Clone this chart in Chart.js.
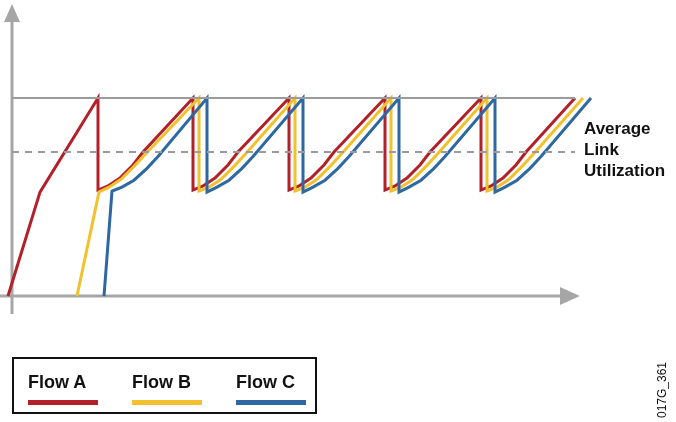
<!DOCTYPE html>
<html>
<head>
<meta charset="utf-8">
<script src="https://cdn.jsdelivr.net/npm/chart.js@4"></script>
<style>
  body { margin: 0; background: #fff; font-family: Arial, "Liberation Sans", sans-serif; }
  #wrap { position: relative; width: 676px; height: 422px; }
  #c { position: absolute; left: 0; top: 0; }
  .note { position: absolute; left: 584px; top: 118px; font-weight: bold; font-size: 17px; line-height: 21px; color: #111; }
  .legend { position: absolute; left: 12px; top: 357px; width: 305px; height: 57px; border: 2px solid #111; box-sizing: border-box; }
  .item { position: absolute; top: 13px; font-weight: bold; font-size: 18px; color: #111; }
  .item span { display: block; height: 5px; width: 70px; margin-top: 7px; }
  .code { position: absolute; left: 622px; top: 383px; transform: rotate(-90deg); font-size: 12px; color: #111; width: 80px; text-align: center; }
</style>
</head>
<body>
<div id="wrap">
  <canvas id="c" width="676" height="422"></canvas>
  <div class="note">Average<br>Link<br>Utilization</div>
  <div class="legend">
    <div class="item" style="left:14px">Flow A<span style="background:#b3202a"></span></div>
    <div class="item" style="left:118px">Flow B<span style="background:#f2c12e"></span></div>
    <div class="item" style="left:222px">Flow C<span style="background:#2d68a3"></span></div>
  </div>
  <div class="code">017G_361</div>
</div>
<script>
/* ---------------- DATA ---------------- */
// x = time (arbitrary units), y = link utilization %
const flowA = [[8,0],[40,52.5],[98,100],[98,53.5],[108,55.6],[120,59.6],[133,66.2],[143,72.7],[193,100],
  [193,53.5],[203,55.6],[215,59.6],[228,66.2],[238,72.7],[289,100],
  [289,53.5],[299,55.6],[311,59.6],[324,66.2],[334,72.7],[385,100],
  [385,53.5],[395,55.6],[407,59.6],[420,66.2],[430,72.7],[481,100],
  [481,53.5],[491,55.6],[503,59.6],[516,66.2],[526,72.7],[575,100]];
const flowB = [[77,0],[99,52.5],[109,55],[121,59],[134,65.5],[145,71.5],[199,100],
  [199,53],[209,55],[221,59],[234,65.5],[245,71.5],[295,100],
  [295,53],[305,55],[317,59],[330,65.5],[341,71.5],[391,100],
  [391,53],[401,55],[413,59],[426,65.5],[437,71.5],[487,100],
  [487,53],[497,55],[509,59],[522,65.5],[533,71.5],[583,100]];
const flowC = [[104,0],[112,53],[122,55],[134,58.5],[147,64.5],[158,70.5],[207,100],
  [207,52.5],[217,55],[229,58.5],[242,64.5],[253,70.5],[303,100],
  [303,52.5],[313,55],[325,58.5],[338,64.5],[349,70.5],[399,100],
  [399,52.5],[409,55],[421,58.5],[434,64.5],[445,70.5],[495,100],
  [495,52.5],[505,55],[517,58.5],[530,64.5],[541,70.5],[591,100]];
const capacity = 100;
const average = 72.7;
const lineEnd = 575;

const pts = a => a.map(([x, y]) => ({ x, y }));

/* ---------------- AXES PLUGIN ---------------- */
const axesArrows = {
  id: "axesArrows",
  beforeDatasetsDraw(chart) {
    const { ctx, scales: { x, y } } = chart;
    const x0 = x.getPixelForValue(12), y0 = y.getPixelForValue(0);
    ctx.save();
    ctx.strokeStyle = ctx.fillStyle = "#a6a6a6";
    ctx.lineWidth = 3;
    ctx.beginPath();
    ctx.moveTo(x0, y0 + 18); ctx.lineTo(x0, 20);
    ctx.moveTo(0, y0); ctx.lineTo(562, y0);
    ctx.stroke();
    ctx.beginPath();
    ctx.moveTo(x0 - 8, 22); ctx.lineTo(x0 + 8, 22); ctx.lineTo(x0, 4); ctx.fill();
    ctx.beginPath();
    ctx.moveTo(560, y0 - 9); ctx.lineTo(560, y0 + 9); ctx.lineTo(580, y0); ctx.fill();
    ctx.restore();
  }
};

/* ---------------- CHART ---------------- */
const line = (data, color, extra) => Object.assign({
  data, borderColor: color, borderWidth: 3, pointRadius: 0, tension: 0, fill: false
}, extra);

new Chart(document.getElementById("c"), {
  type: "line",
  data: {
    datasets: [
      line(pts([[12, capacity], [lineEnd, capacity]]), "#9b9b9b", { borderWidth: 2 }),
      line(pts([[12, average], [lineEnd, average]]), "#9b9b9b", { borderWidth: 2, borderDash: [7, 6] }),
      line(pts(flowC), "#2d68a3"),
      line(pts(flowB), "#f2c12e"),
      line(pts(flowA), "#b3202a")
    ]
  },
  options: {
    responsive: false,
    animation: false,
    layout: { padding: 0 },
    plugins: { legend: { display: false }, tooltip: { enabled: false } },
    scales: {
      x: { type: "linear", min: 0, max: 676, display: false },
      y: { type: "linear", min: -63.6, max: 149.5, display: false }
    }
  },
  plugins: [axesArrows]
});
</script>
</body>
</html>
